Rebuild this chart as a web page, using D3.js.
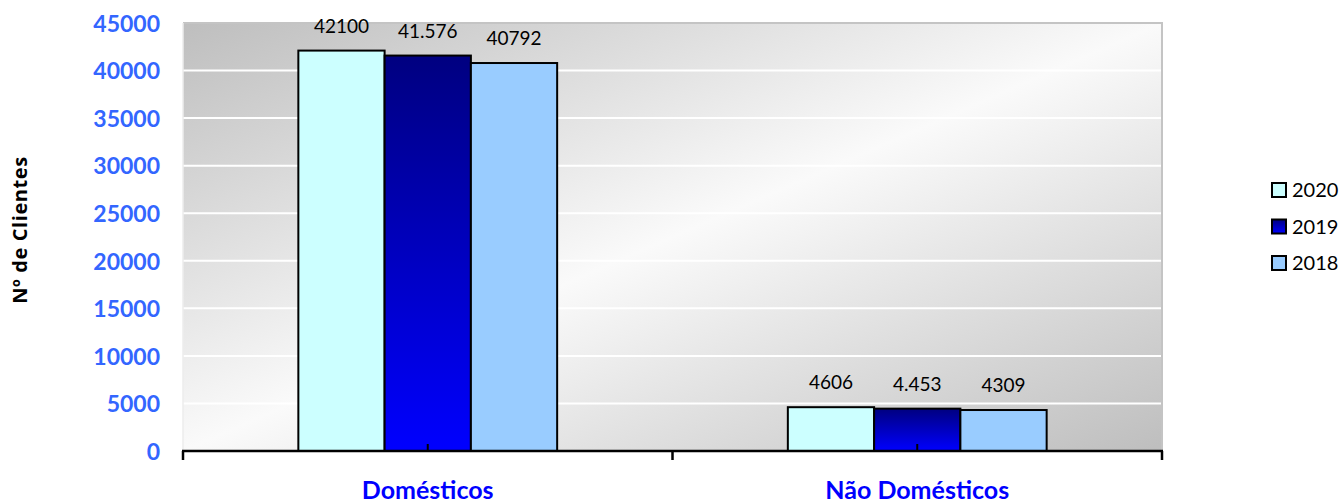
<!DOCTYPE html>
<html>
<head>
<meta charset="utf-8">
<script src="https://cdn.jsdelivr.net/npm/d3@7"></script>
<style>
  html, body { margin: 0; padding: 0; background: #ffffff; }
  svg { display: block; }
</style>
</head>
<body>
<svg id="chart" width="1344" height="504"></svg>
<script>
// Number of customers by type, three years
const categories = ["Domésticos", "Não Domésticos"];
const years = ["2020", "2019", "2018"];
const values2020 = [42100, 4606];
const values2019 = [41576, 4453];
const values2018 = [40792, 4309];
const seriesValues = [values2020, values2019, values2018];
const yTicks = [0, 5000, 10000, 15000, 20000, 25000, 30000, 35000, 40000, 45000];
const yTitle = "Nº de Clientes";

const fmtPlain = d3.format("d");
const fmtDot = d3.formatLocale({ decimal: ",", thousands: ".", grouping: [3], currency: ["", ""] }).format(",d");
const labelFormats = [fmtPlain, fmtDot, fmtPlain];

const fills = ["#ccffff", "url(#gradNavy)", "#99ccff"];

const svg = d3.select("#chart");
const margin = { left: 183, top: 23, right: 1162, bottom: 451 };
const fontFamily = "Lato, 'Open Sans', sans-serif";

const defs = svg.append("defs");
const bg = defs.append("linearGradient").attr("id", "gradPlot")
  .attr("x1", 0).attr("y1", 0).attr("x2", 1).attr("y2", 1);
bg.append("stop").attr("offset", "0%").attr("stop-color", "#bebebe");
bg.append("stop").attr("offset", "50%").attr("stop-color", "#fafafa");
bg.append("stop").attr("offset", "100%").attr("stop-color", "#bebebe");

const nv = defs.append("linearGradient").attr("id", "gradNavy")
  .attr("x1", 0).attr("y1", 0).attr("x2", 0).attr("y2", 1);
nv.append("stop").attr("offset", "0%").attr("stop-color", "#000080");
nv.append("stop").attr("offset", "100%").attr("stop-color", "#0000ff");

const x0 = d3.scaleBand().domain(categories).range([margin.left, margin.right]).paddingInner(0).paddingOuter(0);
const x1 = d3.scaleBand().domain(years).range([0, x0.bandwidth()]).paddingInner(0).paddingOuter(1.337);
const y = d3.scaleLinear().domain([0, 45000]).range([margin.bottom, margin.top]);

// plot area
svg.append("rect")
  .attr("x", margin.left).attr("y", margin.top)
  .attr("width", margin.right - margin.left).attr("height", margin.bottom - margin.top)
  .attr("fill", "url(#gradPlot)");

// gridlines
svg.append("g").selectAll("line").data(yTicks.filter(d => d > 0 && d < 45000)).join("line")
  .attr("x1", margin.left).attr("x2", margin.right)
  .attr("y1", d => y(d)).attr("y2", d => y(d))
  .attr("stroke", "#ffffff").attr("stroke-width", 2);

// plot border
svg.append("path")
  .attr("d", `M${margin.left},${margin.top} H${margin.right} V${margin.bottom}`)
  .attr("fill", "none").attr("stroke", "#c4c4c4").attr("stroke-width", 2);
svg.append("line")
  .attr("x1", margin.left).attr("x2", margin.left).attr("y1", margin.top).attr("y2", margin.bottom)
  .attr("stroke", "#ececec").attr("stroke-width", 1.5);

// bars
const groups = svg.append("g").selectAll("g").data(categories).join("g")
  .attr("transform", d => `translate(${x0(d)},0)`);
groups.selectAll("rect").data((c, ci) => years.map((yr, si) => ({ yr, si, v: seriesValues[si][ci] })))
  .join("rect")
  .attr("x", d => x1(d.yr)).attr("width", x1.bandwidth())
  .attr("y", d => y(d.v)).attr("height", d => y(0) - y(d.v))
  .attr("fill", d => fills[d.si])
  .attr("stroke", "#000000").attr("stroke-width", 2);

// value labels
groups.selectAll("text").data((c, ci) => years.map((yr, si) => ({ yr, si, v: seriesValues[si][ci] })))
  .join("text")
  .attr("x", d => x1(d.yr) + x1.bandwidth() / 2)
  .attr("y", d => y(d.v) - 18)
  .attr("text-anchor", "middle")
  .attr("font-family", fontFamily).attr("font-size", 19).attr("fill", "#000000")
  .text(d => labelFormats[d.si](d.v));

// x axis
const xAxisG = svg.append("g");
xAxisG.append("line")
  .attr("x1", margin.left - 1).attr("x2", margin.right + 1)
  .attr("y1", margin.bottom).attr("y2", margin.bottom)
  .attr("stroke", "#000000").attr("stroke-width", 2.5);
const boundaries = [margin.left, ...categories.map(c => x0(c) + x0.bandwidth())];
xAxisG.selectAll("line.tk").data(boundaries).join("line").attr("class", "tk")
  .attr("x1", d => d).attr("x2", d => d)
  .attr("y1", margin.bottom).attr("y2", margin.bottom + 9)
  .attr("stroke", "#000000").attr("stroke-width", 2.5);
xAxisG.selectAll("line.mid").data(categories).join("line").attr("class", "mid")
  .attr("x1", d => x0(d) + x0.bandwidth() / 2).attr("x2", d => x0(d) + x0.bandwidth() / 2)
  .attr("y1", margin.bottom).attr("y2", margin.bottom - 7)
  .attr("stroke", "#000000").attr("stroke-width", 2);
xAxisG.selectAll("text").data(categories).join("text")
  .attr("x", d => x0(d) + x0.bandwidth() / 2)
  .attr("y", 499)
  .attr("text-anchor", "middle")
  .attr("font-family", fontFamily).attr("font-weight", "bold").attr("font-size", 25)
  .attr("fill", "#0000ff")
  .text(d => d);

// y axis labels
const yAxis = d3.axisLeft(y).tickValues(yTicks).tickSize(0).tickPadding(0).tickFormat(fmtPlain);
const yAxisG = svg.append("g").attr("transform", `translate(160,0)`).call(yAxis);
yAxisG.select(".domain").remove();
yAxisG.selectAll("text")
  .attr("font-family", fontFamily).attr("font-weight", "bold").attr("font-size", 23)
  .attr("fill", "#3366ff").attr("dy", "0.36em");

// y title
svg.append("text")
  .attr("transform", "translate(27,230) rotate(-90)")
  .attr("text-anchor", "middle")
  .attr("font-family", "'Open Sans', Lato, sans-serif").attr("font-weight", "bold").attr("font-size", 20)
  .attr("letter-spacing", 0.6)
  .attr("fill", "#000000")
  .text(yTitle);

// legend
const legend = svg.append("g").selectAll("g").data(years).join("g")
  .attr("transform", (d, i) => `translate(1272,${183 + i * 36.5})`);
legend.append("rect")
  .attr("x", 0).attr("y", 0).attr("width", 14).attr("height", 14)
  .attr("fill", (d, i) => fills[i]).attr("stroke", "#000000").attr("stroke-width", 2);
legend.append("text")
  .attr("x", 20).attr("y", 7).attr("dy", "0.36em")
  .attr("font-family", fontFamily).attr("font-size", 20).attr("fill", "#000000")
  .text(d => d);
</script>
</body>
</html>
